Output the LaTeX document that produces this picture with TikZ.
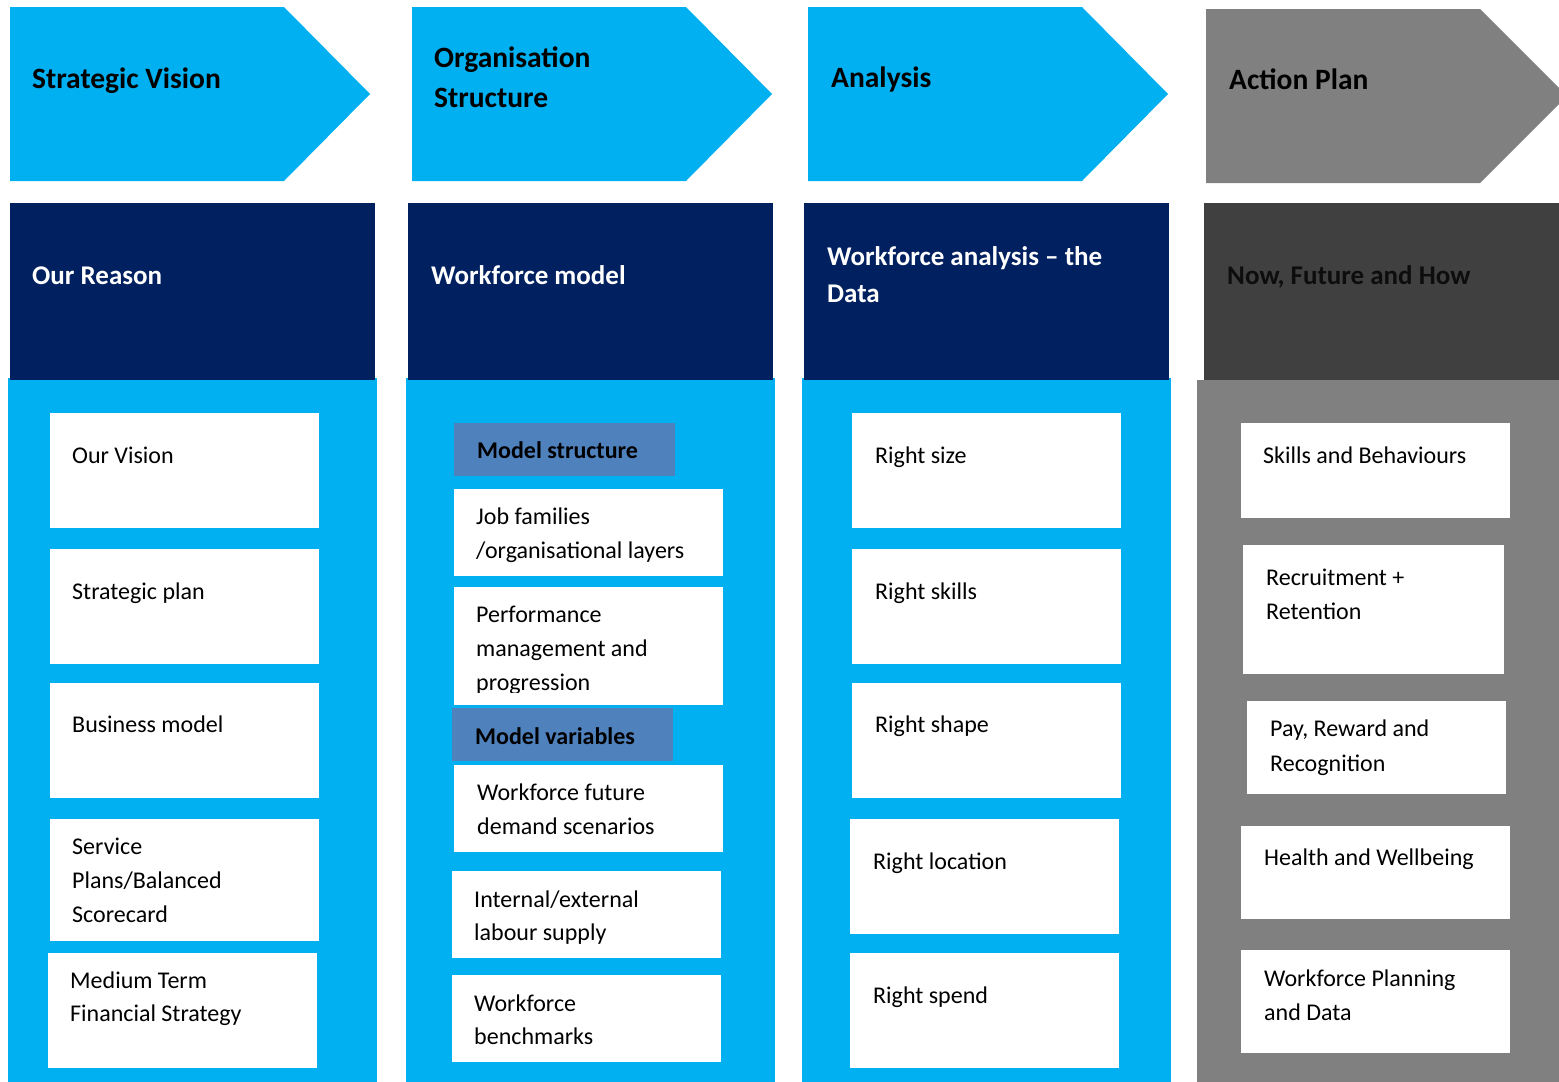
\documentclass[tikz,border=0pt]{standalone}
\usepackage{fontspec}
\setmainfont{Carlito}
\definecolor{skyfill}{HTML}{00B0F0}
\definecolor{navyfill}{HTML}{002060}
\definecolor{steelfill}{HTML}{4F81BD}
\definecolor{greyfill}{HTML}{808080}
\definecolor{charcoal}{HTML}{404040}
\begin{document}
% Multi-line labels are placed by the baseline of their last line.
\begin{tikzpicture}[x=1pt,y=-1pt,
  panel/.style={draw=none,inner sep=0pt,outer sep=0pt,anchor=north west},
  card/.style={panel,fill=white},
  tag/.style={panel,fill=steelfill},
  bodytext/.style={anchor=base west,inner sep=0pt,align=left,
    font=\fontsize{24}{34}\selectfont},
  tagtext/.style={bodytext,font=\fontsize{24}{34}\selectfont\bfseries},
  chevtext/.style={anchor=base west,inner sep=0pt,align=left,
    font=\fontsize{29.5}{40}\selectfont\bfseries},
  headtext/.style={anchor=base west,inner sep=0pt,align=left,
    font=\fontsize{27}{37}\selectfont\bfseries},
]
\useasboundingbox (0,0) rectangle (1559,1082);

% ---------- column 1: Strategic Vision ----------
\fill[skyfill] (10,7) -- (284,7) -- (370,94) -- (284,181) -- (10,181) -- cycle;
\node[chevtext] (h1) at (32,88) {Strategic Vision};
\node[panel,fill=skyfill,minimum width=369,minimum height=704] (b1) at (8,378) {};
\node[panel,fill=navyfill,minimum width=365,minimum height=177] (s1) at (10,203) {};
\node[headtext,white] (s1t) at (32,284) {Our Reason};
\node[card,minimum width=269,minimum height=115] (c11) at (50,413) {};
\node[bodytext] at (72,463) {Our Vision};
\node[card,minimum width=269,minimum height=115] (c12) at (50,549) {};
\node[bodytext] at (72,599) {Strategic plan};
\node[card,minimum width=269,minimum height=115] (c13) at (50,683) {};
\node[bodytext] at (72,732) {Business model};
\node[card,minimum width=269,minimum height=122] (c14) at (50,819) {};
\node[bodytext] at (72,922) {Service\\Plans/Balanced\\Scorecard};
\node[card,minimum width=269,minimum height=115] (c15) at (48,953) {};
\node[bodytext,font=\fontsize{24}{33}\selectfont] at (70,1021) {Medium Term\\Financial Strategy};

% ---------- column 2: Organisation Structure ----------
\fill[skyfill] (412,7) -- (686,7) -- (772,94) -- (686,181) -- (412,181) -- cycle;
\node[chevtext] (h2) at (434,107) {Organisation\\Structure};
\node[panel,fill=skyfill,minimum width=369,minimum height=704] (b2) at (406,378) {};
\node[panel,fill=navyfill,minimum width=365,minimum height=177] (s2) at (408,203) {};
\node[headtext,white] (s2t) at (431,284) {Workforce model};
\node[tag,minimum width=221,minimum height=53] (g21) at (454,423) {};
\node[tagtext] at (477,458) {Model structure};
\node[card,minimum width=269,minimum height=87] (c21) at (454,489) {};
\node[bodytext] at (476,558) {Job families\\/organisational layers};
\node[card,minimum width=269,minimum height=118] (c22) at (454,587) {};
\begin{scope}
  \clip (454,587) rectangle (723,692);
  \node[bodytext] at (476,690) {Performance\\management and\\progression};
\end{scope}
\node[tag,minimum width=221,minimum height=53] (g22) at (452,708) {};
\node[tagtext] at (475,744) {Model variables};
\node[card,minimum width=269,minimum height=87] (c23) at (454,765) {};
\node[bodytext] at (477,834) {Workforce future\\demand scenarios};
\node[card,minimum width=269,minimum height=87] (c24) at (452,871) {};
\node[bodytext,font=\fontsize{24}{33}\selectfont] at (474,940) {Internal/external\\labour supply};
\node[card,minimum width=269,minimum height=87] (c25) at (452,975) {};
\node[bodytext,font=\fontsize{24}{33}\selectfont] at (474,1044) {Workforce\\benchmarks};

% ---------- column 3: Analysis ----------
\fill[skyfill] (808,7) -- (1082,7) -- (1168,94) -- (1082,181) -- (808,181) -- cycle;
\node[chevtext] (h3) at (831,87) {Analysis};
\node[panel,fill=skyfill,minimum width=369,minimum height=704] (b3) at (802,378) {};
\node[panel,fill=navyfill,minimum width=365,minimum height=177] (s3) at (804,203) {};
\node[headtext,white] (s3t) at (827,302) {Workforce analysis – the\\Data};
\node[card,minimum width=269,minimum height=115] (c31) at (852,413) {};
\node[bodytext] at (875,463) {Right size};
\node[card,minimum width=269,minimum height=115] (c32) at (852,549) {};
\node[bodytext] at (875,599) {Right skills};
\node[card,minimum width=269,minimum height=115] (c33) at (852,683) {};
\node[bodytext] at (875,732) {Right shape};
\node[card,minimum width=269,minimum height=115] (c34) at (850,819) {};
\node[bodytext] at (873,869) {Right location};
\node[card,minimum width=269,minimum height=115] (c35) at (850,953) {};
\node[bodytext] at (873,1003) {Right spend};

% ---------- column 4: Action Plan ----------
\fill[greyfill] (1206,9) -- (1480,9) -- (1567,96) -- (1480,183) -- (1206,183) -- cycle;
\node[chevtext] (h4) at (1229,89) {Action Plan};
\node[panel,fill=greyfill,minimum width=370,minimum height=702] (b4) at (1197,380) {};
\node[panel,fill=charcoal,minimum width=365,minimum height=177] (s4) at (1204,203) {};
\node[headtext,black!95] (s4t) at (1227,284) {Now, Future and How};
\node[card,minimum width=269,minimum height=95] (c41) at (1241,423) {};
\node[bodytext] at (1263,463) {Skills and Behaviours};
\node[card,minimum width=261,minimum height=129] (c42) at (1243,545) {};
\node[bodytext] at (1266,619) {Recruitment +\\Retention};
\node[card,minimum width=259,minimum height=93] (c43) at (1247,701) {};
\node[bodytext,font=\fontsize{24}{35}\selectfont] at (1270,771) {Pay, Reward and\\Recognition};
\node[card,minimum width=269,minimum height=93] (c44) at (1241,826) {};
\node[bodytext] at (1264,865) {Health and Wellbeing};
\node[card,minimum width=269,minimum height=103] (c45) at (1241,950) {};
\node[bodytext] at (1264,1020) {Workforce Planning\\and Data};
\end{tikzpicture}
\end{document}
